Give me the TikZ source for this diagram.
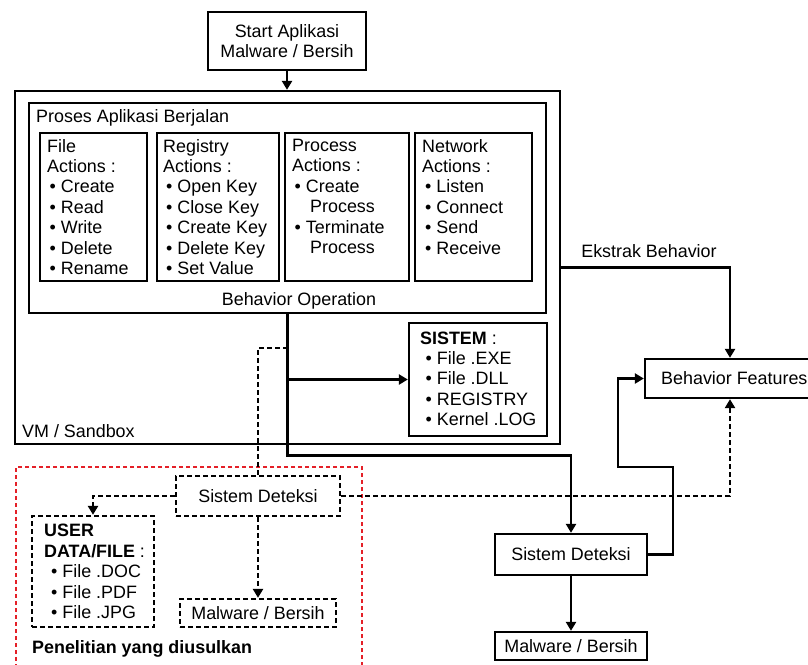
\documentclass[tikz,border=0pt]{standalone}
\usepackage{fontspec}
\setmainfont{Liberation Sans}
\usetikzlibrary{arrows.meta}
\definecolor{redd}{RGB}{228,32,40}
\newcommand\bu[1]{\hspace*{#1}•\ }
\begin{document}
\begin{tikzpicture}[x=1pt,y=-1pt,
  box/.style={draw, line width=2.3pt, inner sep=0pt},
  dbox/.style={box, dash pattern=on 5pt off 3pt},
  txt/.style={inner sep=0pt, align=left, anchor=north west},
  lbl/.style={inner sep=0pt},
  arr/.style={line width=2.4pt, -{Triangle[length=9pt,width=10pt]}},
  dline/.style={line width=2.3pt, dash pattern=on 5pt off 3pt},
  darr/.style={arr, line width=2.3pt, dash pattern=on 5pt off 3pt},
  font=\fontsize{17.9}{20.4}\selectfont]
\useasboundingbox (0,0) rectangle (808,664);

% top
\node[box, minimum width=158, minimum height=58, align=center] (start) at (287,41) {Start Aplikasi\\Malware / Bersih};
\node[box, minimum width=545, minimum height=353] (vm) at (287.5,267.5) {};
\node[box, minimum width=517, minimum height=210] (proses) at (287.5,208) {};
\node[lbl, anchor=base west] (prosest) at (36,122) {Proses Aplikasi Berjalan};

\node[box, minimum width=107, minimum height=148] (file) at (93.5,207) {};
\node[box, minimum width=122, minimum height=148] (reg) at (218,207) {};
\node[box, minimum width=124, minimum height=148] (proc) at (347,207) {};
\node[box, minimum width=117, minimum height=148] (net) at (473.5,207) {};

\node[txt] (filet) at (47,139) {File\\Actions :\\\bu{2.5pt}Create\\\bu{2.5pt}Read\\\bu{2.5pt}Write\\\bu{2.5pt}Delete\\\bu{2.5pt}Rename};
\node[txt] (regt) at (163,139) {Registry\\Actions :\\\bu{3pt}Open Key\\\bu{3pt}Close Key\\\bu{3pt}Create Key\\\bu{3pt}Delete Key\\\bu{3pt}Set Value};
\node[txt] (proct) at (292,139) {Process\\Actions :\\\bu{2.5pt}Create\\\hspace*{18pt}Process\\\bu{2.5pt}Terminate\\\hspace*{18pt}Process};
\node[txt] (nett) at (422,139) {Network\\Actions :\\\bu{3pt}Listen\\\bu{3pt}Connect\\\bu{3pt}Send\\\bu{3pt}Receive};

\node[lbl, anchor=base] (bop) at (299,305) {Behavior Operation};

\node[box, minimum width=138, minimum height=113] (sistem) at (478,379.5) {};
\node[txt] (sistemt) at (420,331.3) {\textbf{SISTEM} :\\\bu{5.5pt}File .EXE\\\bu{5.5pt}File .DLL\\\bu{5.5pt}REGISTRY\\\bu{5.5pt}Kernel .LOG};

\node[lbl, anchor=base west] (vmt) at (22,437) {VM / Sandbox};

% right side
\node[lbl, anchor=base] (ekt) at (649,257) {Ekstrak Behavior};
\node[box, minimum width=170, minimum height=39] (bf) at (730,378.5) {};
\node[lbl, anchor=base west] (bft) at (661,384) {Behavior Features};
\node[box, minimum width=152, minimum height=41] (sd1) at (571,554.5) {Sistem Deteksi};
\node[box, minimum width=152, minimum height=28] (mb1) at (571,646) {Malware / Bersih};

% proposed
\node[draw=redd, line width=1.6pt, dash pattern=on 4pt off 3pt, minimum width=346, minimum height=210, inner sep=0pt] (pen) at (189,572) {};
\node[dbox, minimum width=164, minimum height=40] (sd2) at (258,496) {Sistem Deteksi};
\node[dbox, minimum width=122, minimum height=111] (user) at (93,571.5) {};
\node[txt] (usert) at (44,524.1) {\textbf{USER}\\\textbf{DATA/FILE} :\\\bu{7pt}File .DOC\\\bu{7pt}File .PDF\\\bu{7pt}File .JPG};
\node[dbox, minimum width=156, minimum height=28] (mb2) at (258,613) {Malware / Bersih};
\node[lbl, anchor=base west] (pent) at (32,653) {\textbf{Penelitian yang diusulkan}};

% connectors
\draw[arr] (start.south) -- (start.south |- vm.north);
\coordinate (j1) at (287.5,455.5);
\draw[arr] (proses.south) -- (j1) -| (sd1.north);
\draw[arr] (proses.south |- sistem.west) -- (sistem.west);
\draw[arr] (vm.east) -| (bf.north);
\coordinate (r1) at (673,467);
\coordinate (r2) at (618,467);
\draw[arr] (sd1.east) -| (r1) -- (r2) |- (bf.west);
\draw[arr] (sd1.south) -- (mb1.north);
\coordinate (d1) at (258,348);
\draw[dline] (sd2.north) -- (d1) -- (proses.south |- d1);
\draw[darr] (sd2.west) -| (user.north);
\draw[darr] (sd2.south) -- (mb2.north);
\draw[darr] (sd2.east) -| (bf.south);
\end{tikzpicture}
\end{document}
